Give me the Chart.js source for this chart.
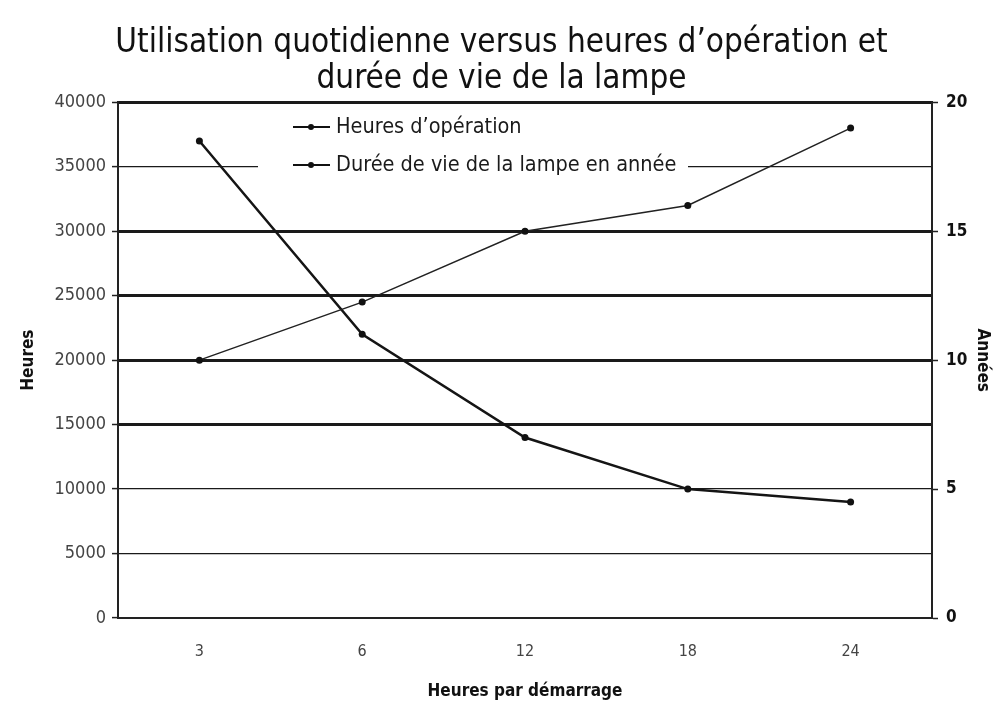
<!DOCTYPE html>
<html lang="fr">
<head>
<meta charset="utf-8">
<title>Utilisation quotidienne versus heures d'opération</title>
<script src="https://cdn.jsdelivr.net/npm/chart.js@4/dist/chart.umd.min.js"></script>
<style>
  html, body { margin: 0; padding: 0; background: #fff; }
  #wrap { width: 1003px; height: 702px; position: relative; }
</style>
</head>
<body>
<div id="wrap"><canvas id="lampChart" width="1003" height="702"></canvas></div>
<script>
// chart data
const categories = ['3', '6', '12', '18', '24'];
const heuresOperation = [20000, 24500, 30000, 32000, 38000];   // left axis (heures)
const dureeVieAnnees = [18.5, 11, 7, 5, 4.5];                   // right axis (années)
const seriesLabels = ["Heures d\u2019opération", 'Durée de vie de la lampe en année'];
const titleLines = ["Utilisation quotidienne versus heures d\u2019opération et", 'durée de vie de la lampe'];

const NARROW = "'Liberation Sans Narrow', 'Arial Narrow', 'DejaVu Sans Condensed', sans-serif";

// thick gridlines on some ticks, like in the scanned original
const thickTicks = [15000, 20000, 25000, 30000, 40000];

/**
 * Legend drawn inside the plot area, on a white box
 */
const insideLegend = {
    id: 'insideLegend',
    beforeDatasetsDraw(chart) {
        const ctx = chart.ctx;
        ctx.save();
        ctx.fillStyle = '#fff';
        ctx.fillRect(258, 105, 430, 80);
        ctx.restore();
    },
    afterDatasetsDraw(chart) {
        const ctx = chart.ctx;
        const rows = [127, 165];
        ctx.save();
        chart.data.datasets.forEach((ds, i) => {
            const y = rows[i];
            ctx.strokeStyle = '#111';
            ctx.lineWidth = 2;
            ctx.beginPath();
            ctx.moveTo(293, y);
            ctx.lineTo(330, y);
            ctx.stroke();
            ctx.fillStyle = '#111';
            ctx.beginPath();
            ctx.arc(311, y, 3, 0, Math.PI * 2);
            ctx.fill();
            ctx.font = '21.5px ' + NARROW;
            ctx.textBaseline = 'middle';
            ctx.fillStyle = '#1a1a1a';
            ctx.fillText(ds.label, 336, y);
        });
        ctx.restore();
    }
};

const ctx = document.getElementById('lampChart').getContext('2d');
new Chart(ctx, {
    type: 'line',
    data: {
        labels: categories,
        datasets: [
            {
                label: seriesLabels[0],
                data: heuresOperation,
                yAxisID: 'y',
                borderColor: '#222',
                backgroundColor: '#111',
                borderWidth: 1.5,
                pointRadius: 3.5,
                pointBorderWidth: 0,
                tension: 0,
                fill: false
            },
            {
                label: seriesLabels[1],
                data: dureeVieAnnees,
                yAxisID: 'y2',
                borderColor: '#151515',
                backgroundColor: '#111',
                borderWidth: 2.5,
                pointRadius: 3.5,
                pointBorderWidth: 0,
                tension: 0,
                fill: false
            }
        ]
    },
    options: {
        responsive: false,
        animation: false,
        layout: { padding: { left: 0, right: 0, top: 0, bottom: 0 } },
        plugins: {
            legend: { display: false },
            tooltip: { enabled: false },
            title: {
                display: true,
                text: titleLines,
                color: '#111',
                font: { family: NARROW, size: 33, weight: 'normal', lineHeight: 1.08 },
                padding: { top: 26, bottom: 5 }
            }
        },
        scales: {
            x: {
                offset: true,
                grid: { display: false, drawTicks: false },
                border: { display: true, color: '#222', width: 2 },
                ticks: {
                    color: '#444',
                    font: { family: NARROW, size: 16 },
                    padding: 24
                },
                title: {
                    display: true,
                    text: 'Heures par démarrage',
                    color: '#111',
                    font: { family: NARROW, size: 17, weight: 'bold' },
                    padding: { top: 4, bottom: 0 }
                },
                afterFit(scale) { scale.height = 84; }
            },
            y: {
                position: 'left',
                min: 0,
                max: 40000,
                ticks: {
                    stepSize: 5000,
                    color: '#444',
                    font: { family: NARROW, size: 18 },
                    padding: 6,
                    callback: v => String(v)
                },
                grid: {
                    color: '#1a1a1a',
                    lineWidth: c => thickTicks.includes(c.tick.value) ? 3 : 1.2,
                    tickLength: 6,
                    tickColor: '#222',
                    tickWidth: 1.5
                },
                border: { display: true, color: '#222', width: 2 },
                title: {
                    display: true,
                    text: 'Heures',
                    color: '#111',
                    font: { family: NARROW, size: 17, weight: 'bold' },
                    padding: { top: 18, bottom: 0 }
                },
                afterFit(scale) { scale.width = 118; }
            },
            y2: {
                position: 'right',
                min: 0,
                max: 20,
                ticks: {
                    stepSize: 5,
                    color: '#111',
                    font: { family: NARROW, size: 17, weight: 'bold' },
                    padding: 8
                },
                grid: {
                    drawOnChartArea: false,
                    tickLength: 6,
                    tickColor: '#222',
                    tickWidth: 1.5
                },
                border: { display: true, color: '#222', width: 2 },
                title: {
                    display: true,
                    text: 'Années',
                    color: '#111',
                    font: { family: NARROW, size: 17, weight: 'bold' },
                    padding: { top: 10, bottom: 0 }
                },
                afterFit(scale) { scale.width = 71; }
            }
        }
    },
    plugins: [insideLegend]
});
</script>
</body>
</html>
